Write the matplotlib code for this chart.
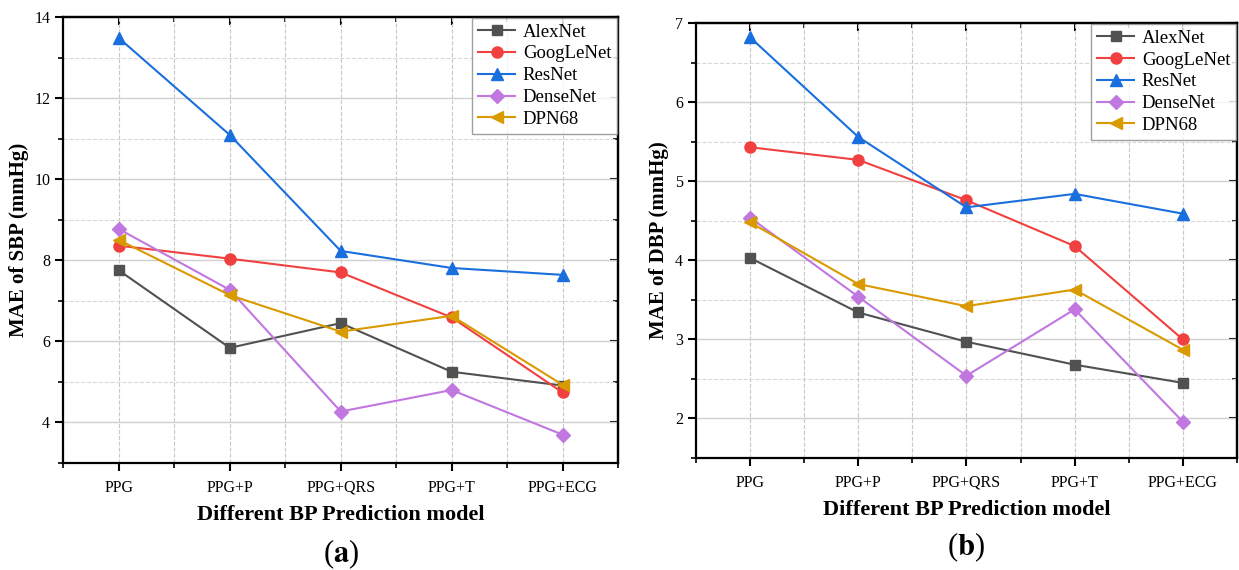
import matplotlib
matplotlib.use("Agg")
import matplotlib.pyplot as plt
from matplotlib.ticker import MultipleLocator

plt.rcParams['font.family'] = ['Liberation Serif', 'DejaVu Serif']
plt.rcParams['mathtext.fontset'] = 'stix'

# data
models = ['PPG', 'PPG+P', 'PPG+QRS', 'PPG+T', 'PPG+ECG']
nets = ['AlexNet', 'GoogLeNet', 'ResNet', 'DenseNet', 'DPN68']

sbp_alexnet = [7.75, 5.84, 6.45, 5.25, 4.91]
sbp_googlenet = [8.36, 8.04, 7.70, 6.59, 4.74]
sbp_resnet = [13.48, 11.09, 8.23, 7.81, 7.64]
sbp_densenet = [8.77, 7.27, 4.27, 4.80, 3.70]
sbp_dpn68 = [8.50, 7.14, 6.24, 6.63, 4.93]

dbp_alexnet = [4.03, 3.34, 2.97, 2.68, 2.45]
dbp_googlenet = [5.43, 5.27, 4.76, 4.18, 3.00]
dbp_resnet = [6.82, 5.56, 4.67, 4.84, 4.59]
dbp_densenet = [4.54, 3.54, 2.54, 3.38, 1.96]
dbp_dpn68 = [4.48, 3.70, 3.42, 3.63, 2.87]

colors = ['#515151', '#F14040', '#1A6FDF', '#C077E0', '#D99A00']
markers = ['s', 'o', '^', 'D', '<']
msizes = [7, 8, 8, 7, 8]

fig = plt.figure(figsize=(12.39, 5.70), dpi=100)
ax1 = fig.add_axes([0.0512, 0.1877, 0.4476, 0.7825])
ax2 = fig.add_axes([0.5617, 0.1965, 0.4366, 0.7630])

panels = [
    (ax1, [sbp_alexnet, sbp_googlenet, sbp_resnet, sbp_densenet, sbp_dpn68],
     'MAE of SBP (mmHg)', (3, 14), 2, 'a'),
    (ax2, [dbp_alexnet, dbp_googlenet, dbp_resnet, dbp_densenet, dbp_dpn68],
     'MAE of DBP (mmHg)', (1.5, 7), 1, 'b'),
]

x = list(range(len(models)))
ident = (lambda v: v, lambda v: v)
for ax, series, ylab, ylim, step, tag in panels:
    for vals, name, c, m, ms in zip(series, nets, colors, markers, msizes):
        ax.plot(x, vals, color=c, marker=m, markersize=ms, linewidth=1.5,
                label=name, zorder=3)
    ax.set_xlim(-0.5, 4.5)
    ax.set_ylim(*ylim)
    ax.set_xticks(x)
    ax.set_xticklabels(models, fontsize=11.5)
    ax.xaxis.set_minor_locator(MultipleLocator(0.5))
    ax.yaxis.set_major_locator(MultipleLocator(step))
    ax.yaxis.set_minor_locator(MultipleLocator(step / 2))
    ax.tick_params(axis='y', labelsize=11.5)
    ax.tick_params(axis='x', pad=6)
    ax.tick_params(which='major', length=6, width=1.5, direction='out')
    ax.tick_params(which='minor', length=3.5, width=1.2, direction='out')
    for sp in ax.spines.values():
        sp.set_linewidth(1.6)

    # mirrored ticks pointing inward on top and right
    sy = ax.secondary_yaxis('right', functions=ident)
    sy.yaxis.set_major_locator(MultipleLocator(step))
    sy.yaxis.set_minor_locator(MultipleLocator(step / 2))
    sy.tick_params(which='major', direction='in', length=6, width=1.5, labelright=False)
    sy.tick_params(which='minor', direction='in', length=3.5, width=1.2)
    sy.spines['right'].set_linewidth(1.6)
    sx = ax.secondary_xaxis('top', functions=ident)
    sx.set_xticks(x)
    sx.xaxis.set_minor_locator(MultipleLocator(0.5))
    sx.tick_params(which='major', direction='in', length=6, width=1.5, labeltop=False)
    sx.tick_params(which='minor', direction='in', length=3.5, width=1.2)
    sx.spines['top'].set_linewidth(1.6)

    ax.grid(True, which='major', axis='y', color='#d0d0d0', linewidth=1.0)
    ax.grid(True, which='minor', axis='y', color='#d8d8d8', linestyle='--', linewidth=0.8)
    ax.grid(True, which='both', axis='x', color='#c8c8c8', linestyle='--', linewidth=0.8)
    ax.set_axisbelow(True)
    ax.set_ylabel(ylab, fontsize=15, fontweight='bold')
    ax.set_xlabel('Different BP Prediction model', fontsize=16, fontweight='bold',
                  labelpad=7)
    leg = ax.legend(loc='upper right', fontsize=13.5, frameon=True, fancybox=False,
                    edgecolor='#888888', borderaxespad=0.05, handlelength=2.0,
                    labelspacing=0.25, borderpad=0.3, handletextpad=0.4)
    leg.get_frame().set_linewidth(1.0)
    ax.text(0.5, -0.205, '(' + r'$\mathbf{' + tag + '}$' + ')', transform=ax.transAxes,
            ha='center', va='center', fontsize=22)

fig.savefig('out.png', dpi=100)
